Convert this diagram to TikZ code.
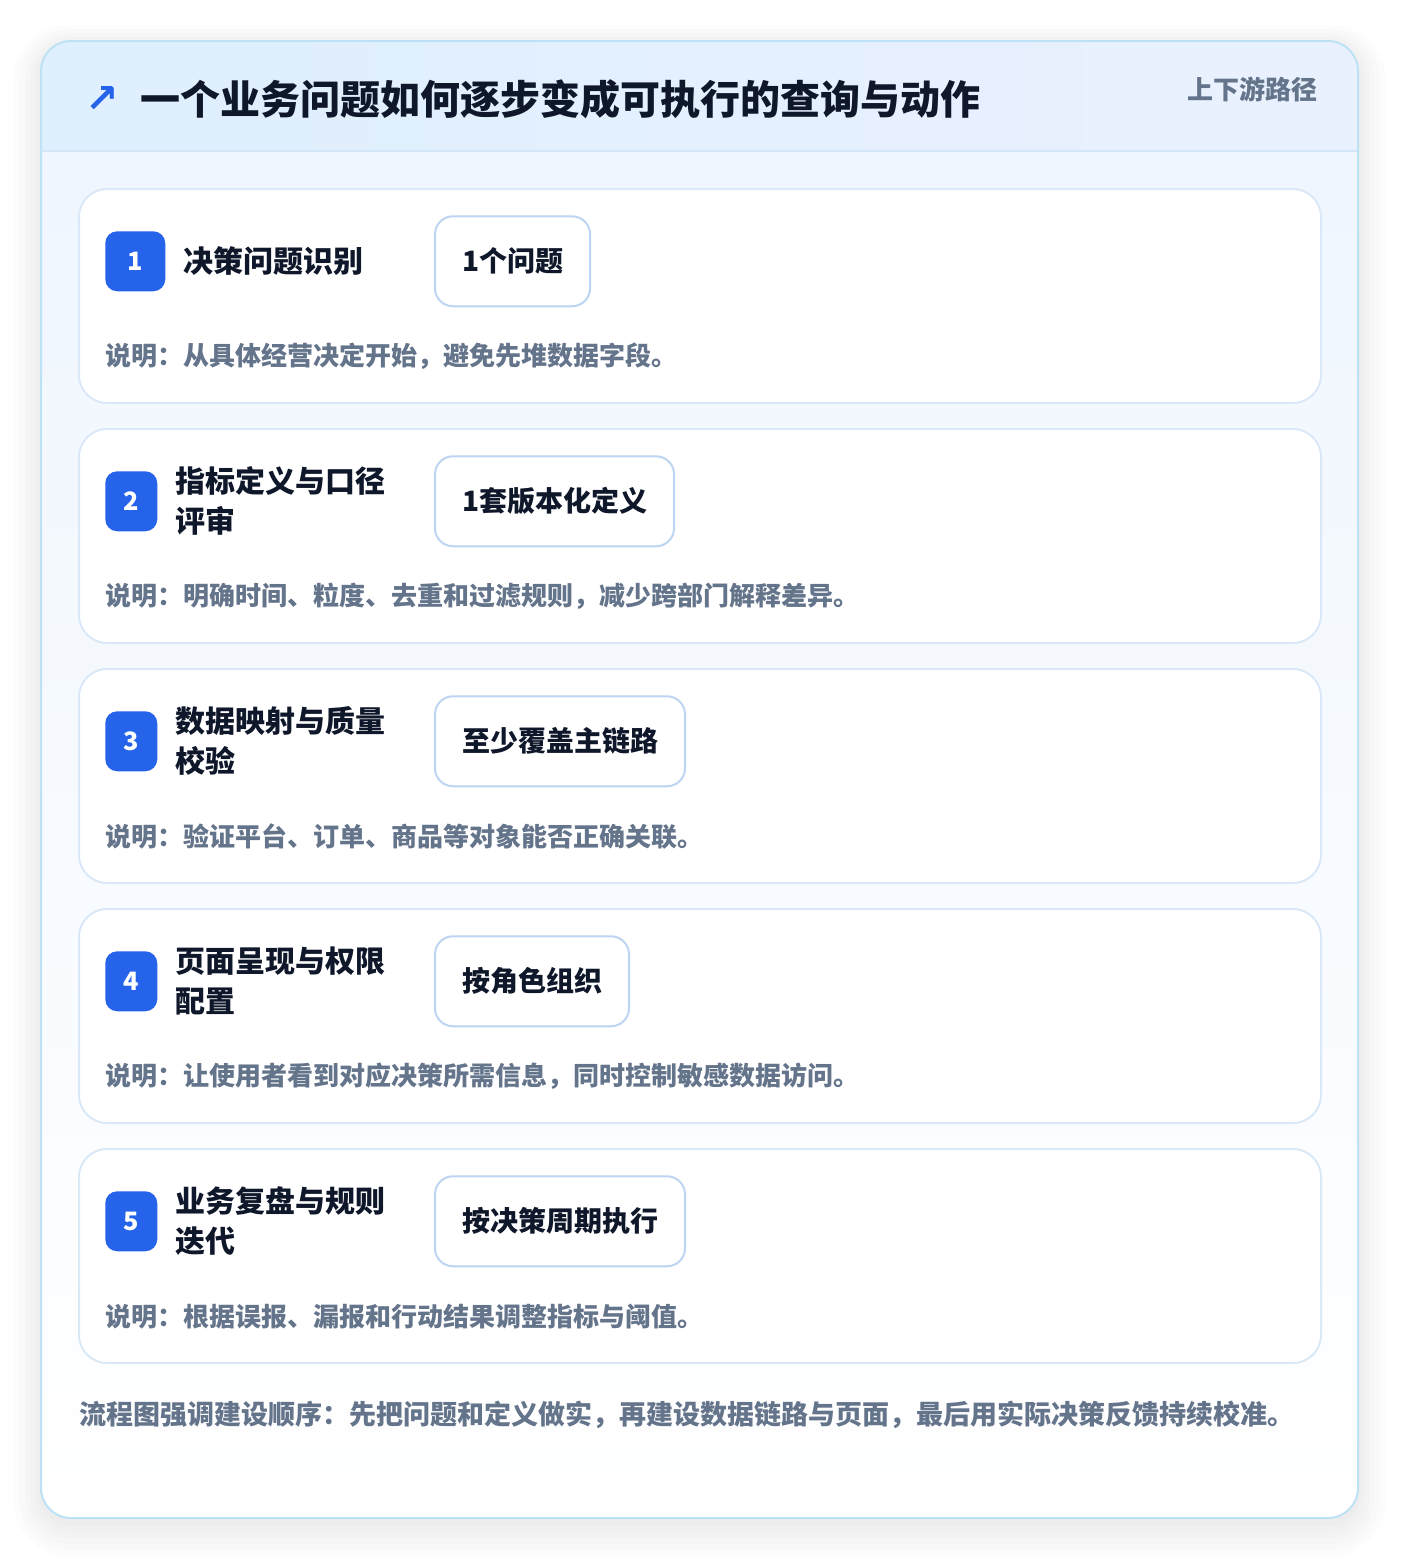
\documentclass[tikz,border=0pt]{standalone}
\usepackage{fontspec}
\newfontfamily\cjk{Noto Sans CJK SC}
\newfontfamily\symb{DejaVu Sans}
\usetikzlibrary{positioning,calc}

\definecolor{badgeblue}{HTML}{2563EB}
\definecolor{ink}{HTML}{0F172A}
\definecolor{muted}{HTML}{64748B}
\definecolor{panelline}{HTML}{BDE2F6}
\definecolor{headline}{HTML}{D3E7F8}
\definecolor{cardline}{HTML}{DAE8F7}
\definecolor{tagline}{HTML}{BCD5F2}
\definecolor{headleft}{HTML}{DEEFFD}
\definecolor{headright}{HTML}{EAF1FE}
\definecolor{bodytop}{HTML}{EFF6FE}
\definecolor{shade}{HTML}{0F172A}

\newcommand{\px}{0.75pt}

\tikzstyle{card}      = [rectangle, rounded corners=21pt, draw=cardline, line width=1.5pt, fill=white, inner sep=0pt, minimum width=1242*\px, minimum height=214*\px]
\tikzstyle{badge}     = [rectangle, rounded corners=9pt, fill=badgeblue, text=white, font=\cjk\bfseries\fontsize{19}{20}\selectfont, minimum width=39pt, minimum height=45pt, inner sep=0pt, anchor=north west]
\tikzstyle{steptitle} = [font=\cjk\bfseries\fontsize{22.5}{30}\selectfont, text=ink, align=left, inner sep=0pt]
\tikzstyle{tag}       = [rectangle, rounded corners=13.5pt, draw=tagline, line width=1.5pt, fill=white, text=ink, font=\cjk\bfseries\fontsize{21}{25}\selectfont, minimum height=67.5pt, inner xsep=20.25pt, anchor=west]
\tikzstyle{desc}      = [font=\cjk\bfseries\fontsize{19.5}{24}\selectfont, text=muted, inner sep=0pt, anchor=west]
\tikzstyle{glow}      = [fill=shade, fill opacity=0.012]

\begin{document}
\begin{tikzpicture}[x=0.75pt, y=-0.75pt, node distance=13.5pt]

    \useasboundingbox (0,0) rectangle (1400,1560);
    \fill[white] (0,0) rectangle (1400,1560);

    \fill[glow, rounded corners=42pt] (13,25) rectangle (1386,1556);
    \fill[glow, rounded corners=38pt] (19,29) rectangle (1380,1550);
    \fill[glow, rounded corners=34pt] (25,33) rectangle (1374,1544);
    \fill[glow, rounded corners=30pt] (30,37) rectangle (1369,1538);
    \fill[glow, rounded corners=27pt] (35,40) rectangle (1364,1532);
    \fill[glow, rounded corners=24pt] (39,43) rectangle (1360,1526);

    \fill[white, rounded corners=22.5pt] (41,41) rectangle (1358,1518);
    \begin{scope}
        \clip[rounded corners=22.5pt] (41,41) rectangle (1358,1518);
        \shade[left color=headleft, right color=headright] (41,41) rectangle (1358,151);
        \shade[top color=bodytop, bottom color=white] (41,151) rectangle (1358,1518);
    \end{scope}
    \draw[headline, line width=1.5pt] (41,151) -- (1358,151);
    \draw[panelline, line width=1.5pt, rounded corners=22.5pt] (41,41) rectangle (1358,1518);

    \node[font=\symb\bfseries\fontsize{30}{30}\selectfont, text=badgeblue] (icon) at (102,99) {↗};
    \node[font=\cjk\bfseries\fontsize{30}{34}\selectfont, text=ink, anchor=west, inner sep=0pt] (title) at (140,99) {一个业务问题如何逐步变成可执行的查询与动作};
    \node[font=\cjk\bfseries\fontsize{19.5}{22}\selectfont, text=muted, anchor=east, inner sep=0pt] (route) at (1318,89) {上下游路径};

    \node[card] (s1) at (700,296)  {};
    \node[card] (s2) at (700,536)  {};
    \node[card] (s3) at (700,776)  {};
    \node[card] (s4) at (700,1016) {};
    \node[card] (s5) at (700,1256) {};

    \node[badge, minimum width=45pt] (b1) at ($(s1.north west)+(27,43)$) {1};
    \node[steptitle, right=of b1] (t1) {决策问题识别};
    \node[tag]  (g1) at ($(b1.west)+(329,0)$) {1个问题};
    \node[desc] (d1) at ($(b1.west)+(0,95)$)  {说明：从具体经营决定开始，避免先堆数据字段。};

    \node[badge] (b2) at ($(s2.north west)+(27,43)$) {2};
    \node[steptitle, right=of b2] (t2) {指标定义与口径\\评审};
    \node[tag]  (g2) at ($(b2.west)+(329,0)$) {1套版本化定义};
    \node[desc] (d2) at ($(b2.west)+(0,95)$)  {说明：明确时间、粒度、去重和过滤规则，减少跨部门解释差异。};

    \node[badge] (b3) at ($(s3.north west)+(27,43)$) {3};
    \node[steptitle, right=of b3] (t3) {数据映射与质量\\校验};
    \node[tag]  (g3) at ($(b3.west)+(329,0)$) {至少覆盖主链路};
    \node[desc] (d3) at ($(b3.west)+(0,95)$)  {说明：验证平台、订单、商品等对象能否正确关联。};

    \node[badge] (b4) at ($(s4.north west)+(27,43)$) {4};
    \node[steptitle, right=of b4] (t4) {页面呈现与权限\\配置};
    \node[tag]  (g4) at ($(b4.west)+(329,0)$) {按角色组织};
    \node[desc] (d4) at ($(b4.west)+(0,95)$)  {说明：让使用者看到对应决策所需信息，同时控制敏感数据访问。};

    \node[badge] (b5) at ($(s5.north west)+(27,43)$) {5};
    \node[steptitle, right=of b5] (t5) {业务复盘与规则\\迭代};
    \node[tag]  (g5) at ($(b5.west)+(329,0)$) {按决策周期执行};
    \node[desc] (d5) at ($(b5.west)+(0,95)$)  {说明：根据误报、漏报和行动结果调整指标与阈值。};

    \node[desc, font=\cjk\bfseries\fontsize{20.25}{24}\selectfont] (note) at (79,1415) {流程图强调建设顺序：先把问题和定义做实，再建设数据链路与页面，最后用实际决策反馈持续校准。};

\end{tikzpicture}
\end{document}
